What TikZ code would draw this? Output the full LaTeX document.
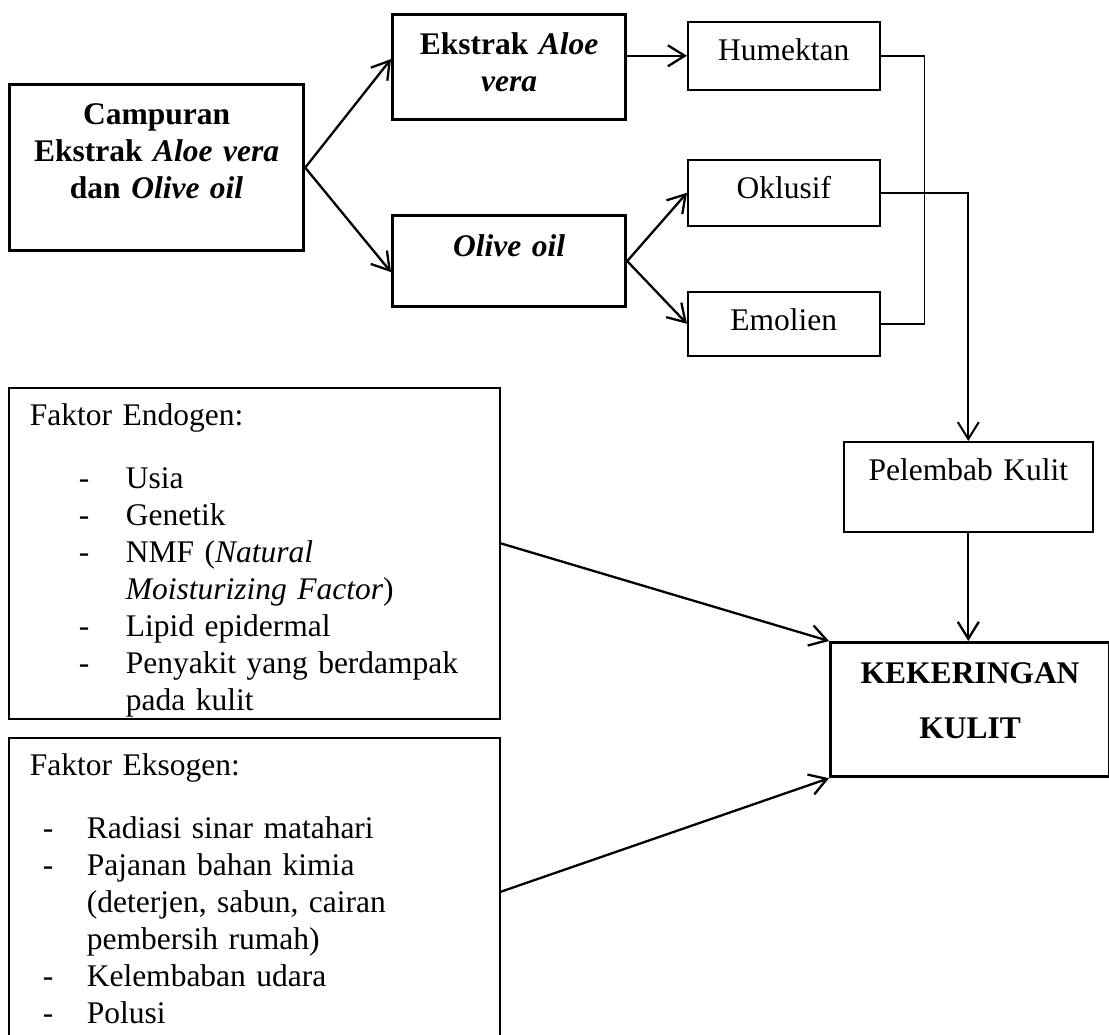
\documentclass[tikz,border=0pt]{standalone}
\usepackage{fontspec}
\setmainfont{Liberation Serif}
\usetikzlibrary{arrows.meta}
\newcommand{\ukuran}{\fontsize{31.5}{37}\selectfont}
\newcommand{\garis}[2]{\hspace*{#1}\makebox[#2][l]{-}}
\begin{document}
\begin{tikzpicture}[x=1pt,y=-1pt,>={Straight Barb[length=17pt,width=21pt]},
    tebal/.style={draw,line width=3.2pt,font=\ukuran\bfseries,align=center,inner sep=0pt,anchor=north west},
    tipis/.style={draw,line width=1.6pt,font=\ukuran,align=center,inner sep=0pt,anchor=north west},
    panah/.style={->,line width=2.3pt}]
\useasboundingbox (0,0) rectangle (1109,1035);
\clip (0,0) rectangle (1109,1035);
% bahan begin
\node[tebal,text width=294pt,text height=40pt,text depth=126pt] (campuran) at (8,83) {Campuran\\Ekstrak \textit{Aloe vera}\\dan \textit{Olive oil}};
\node[tebal,text width=233pt,text height=40pt,text depth=65pt] (ekstrak) at (391,13) {Ekstrak \textit{Aloe}\\\textit{vera}};
\node[tebal,text width=233pt,text height=41pt,text depth=50pt] (olive) at (391,214) {\textit{Olive oil}};
\node[tipis,text width=192pt,text height=39pt,text depth=29pt] (humektan) at (687,21) {Humektan};
\node[tipis,text width=192pt,text height=39pt,text depth=27pt] (oklusif) at (687,159) {Oklusif};
\node[tipis,text width=192pt,text height=39pt,text depth=25pt] (emolien) at (687,291) {Emolien};
% bahan end
\node[tipis,text width=249pt,text height=39pt,text depth=51pt] (pelembab) at (843,441) {Pelembab Kulit};
\node[tebal,text width=279pt,text height=41pt,text depth=93pt] (kering) at (829,641) {KEKERINGAN\\[18pt]KULIT};
% faktor begin
\node[tipis,align=left,inner xsep=21pt,text width=449pt,text height=38pt,text depth=293pt] (endogen) at (8,387) {Faktor Endogen:\\[26pt]
\garis{49pt}{47pt}Usia\\
\garis{49pt}{47pt}Genetik\\
\garis{49pt}{47pt}NMF (\textit{Natural}\\
\hspace*{96pt}\textit{Moisturizing Factor})\\
\garis{49pt}{47pt}Lipid epidermal\\
\garis{49pt}{47pt}Penyakit yang berdampak\\
\hspace*{96pt}pada kulit};
\node[tipis,align=left,inner xsep=21pt,text width=449pt,text height=38pt,text depth=270pt] (eksogen) at (8,737) {Faktor Eksogen:\\[26pt]
\garis{13pt}{44pt}Radiasi sinar matahari\\
\garis{13pt}{44pt}Pajanan bahan kimia\\
\hspace*{57pt}(deterjen, sabun, cairan\\
\hspace*{57pt}pembersih rumah)\\
\garis{13pt}{44pt}Kelembaban udara\\
\garis{13pt}{44pt}Polusi};
% faktor end
\draw[panah] (campuran.east) -- ([yshift=8pt]ekstrak.west);
\draw[panah] (campuran.east) -- ([yshift=-11pt]olive.west);
\draw[panah] (ekstrak.east |- humektan.west) -- (humektan.west);
\draw[panah] (olive.east) -- (oklusif.west);
\draw[panah] (olive.east) -- (emolien.west);
\draw[line width=1.5pt] (humektan.east) -- ++(44,0) |- (emolien.east);
\draw[panah,line width=2pt] (oklusif.east) -| (pelembab.north);
\draw[panah] (pelembab.south) -- (pelembab.south |- kering.north);
\draw[panah] ([yshift=10pt]endogen.east) -- (kering.north west);
\draw[panah] (eksogen.east) -- (kering.south west);
\end{tikzpicture}
\end{document}
